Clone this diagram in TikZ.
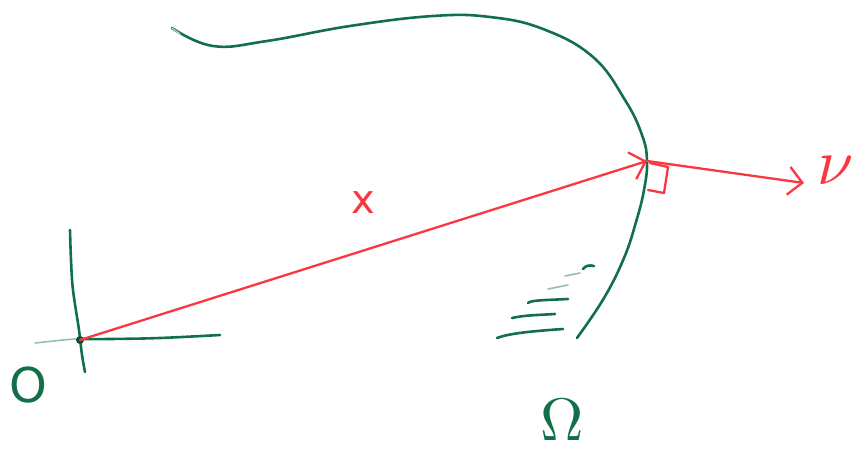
\documentclass[tikz,border=0pt]{standalone}
\usepackage{fontspec}
\newfontfamily\lblfont{DejaVu Sans}
\usetikzlibrary{arrows.meta}
\definecolor{pengreen}{RGB}{18,112,72}
\definecolor{penred}{RGB}{250,55,65}
\tikzset{
  gline/.style={draw=pengreen, line width=2.6pt, line cap=round, line join=round},
  gfaint/.style={draw=pengreen!45, line width=1.6pt, line cap=round},
  rline/.style={draw=penred, line width=2.3pt, line cap=round, line join=round},
  openhead/.style={-{Straight Barb[length=14pt,width=28pt,line width=2.3pt]}},
  lbl/.style={inner sep=0pt, outer sep=0pt}
}
\begin{document}
\begin{tikzpicture}[x=1pt,y=-1pt]
\useasboundingbox (0,0) rectangle (856,455);
% points
\coordinate (O) at (80,340);
\coordinate (P) at (647,161);
\coordinate (N) at (804,183);
% boundary of Omega
\draw[gline] plot[smooth, tension=0.7] coordinates {(172,28) (213,46) (267,41) (350,26) (433,16) (490,17) (543,29) (593,57) (625,100) (642,135) (647,161) (644,190) (636,222) (624,258) (604,298) (577,338)};
\draw[draw=pengreen!35, line width=1.4pt, line cap=round] (172,28) -- (180,34);
% axes
\draw[gline] plot[smooth, tension=0.6] coordinates {(70,230) (71,260) (73,290) (79,330) (82,355) (85,372)};
\draw[gline] plot[smooth, tension=0.6] coordinates {(80,339) (110,339) (160,338) (220,335)};
\draw[gfaint] (35,343) .. controls (55,341) and (68,339) .. (80,339);
\fill[pengreen!70!black] (O) circle (4pt);
% hatching
\draw[gline] (497,338) .. controls (510,333) and (535,331) .. (563,329);
\draw[gline] (512,318) .. controls (525,315) and (540,315) .. (555,314);
\draw[gline] (528,303) .. controls (530,300) and (550,300) .. (568,299);
\draw[gfaint] (548,289) -- (568,285);
\draw[gfaint] (565,276) -- (580,273);
\draw[gline] (583,269) .. controls (586,265) and (590,265) .. (594,266);
% vectors
\draw[rline, openhead] (O) -- (P);
\draw[rline, openhead] (P) -- (N);
\draw[rline] (650,163) -- (668,167) -- (664,193) -- (648,190);
% labels
\node[lbl, text=penred, font=\lblfont\fontsize{40}{40}\selectfont] (xl) at (363,203) {x};
\node[lbl, text=penred, scale=6.5] (nl) at (836,171) {$\nu$};
\node[lbl, text=pengreen, font=\lblfont\fontsize{48}{48}\selectfont] (ol) at (28,385) {O};
\node[lbl, text=pengreen, scale=6] (om) at (562,420) {$\Omega$};
\end{tikzpicture}
\end{document}
